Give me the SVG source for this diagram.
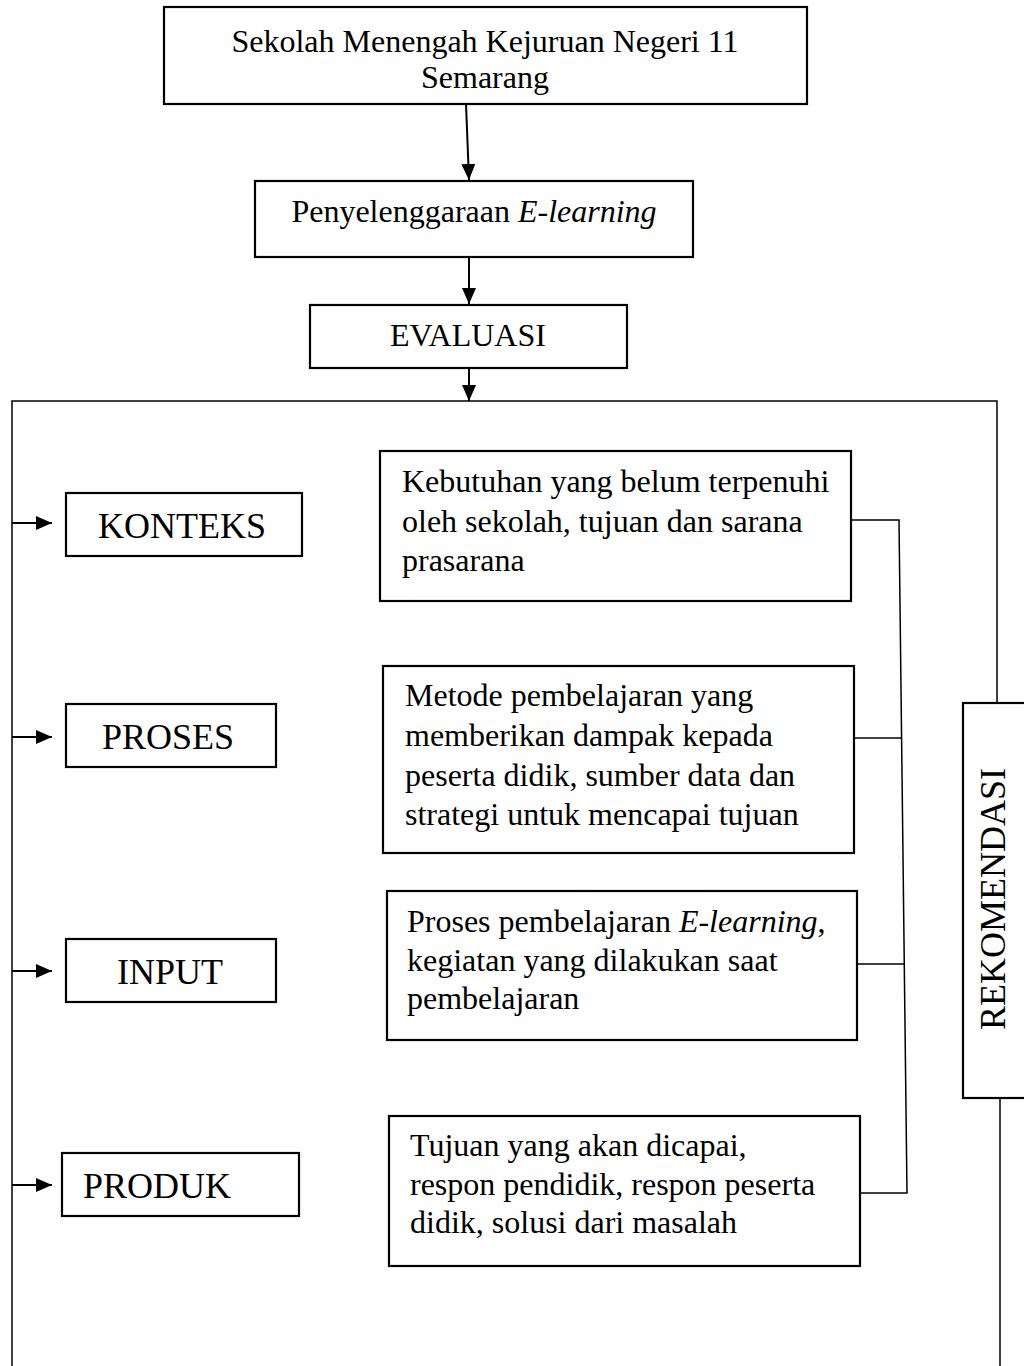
<svg xmlns="http://www.w3.org/2000/svg" width="1024" height="1366" viewBox="0 0 1024 1366">
<style>
.box{fill:#fff;stroke:#000;stroke-width:2.2}
.t{font-family:"Liberation Serif","Times New Roman",serif;font-size:32px;fill:#000}
.lbl{font-family:"Liberation Serif","Times New Roman",serif;font-size:36px;fill:#000}
.ln{fill:none;stroke:#000;stroke-width:1.5}
.ar{fill:none;stroke:#000;stroke-width:2}
</style>
<defs>
<marker id="ah" markerUnits="userSpaceOnUse" markerWidth="16" markerHeight="14" refX="16" refY="7" orient="auto">
<path d="M0,0 L16,7 L0,14 z" fill="#000"/>
</marker>
</defs>
<rect width="1024" height="1366" fill="#fff"/>
<g id="connectors">
<line class="ar" x1="466" y1="104" x2="469" y2="180" marker-end="url(#ah)"/>
<line class="ar" x1="469" y1="257" x2="469" y2="304" marker-end="url(#ah)"/>
<line class="ar" x1="469" y1="369" x2="469" y2="401" marker-end="url(#ah)"/>
<polyline class="ln" points="12,1366 12,401 997,401 997,703"/>
<line class="ln" x1="1000" y1="1098" x2="1000" y2="1366"/>
<line class="ar" x1="12" y1="523" x2="52" y2="523" marker-end="url(#ah)"/>
<line class="ar" x1="12" y1="737" x2="52" y2="737" marker-end="url(#ah)"/>
<line class="ar" x1="12" y1="971" x2="52" y2="971" marker-end="url(#ah)"/>
<line class="ar" x1="12" y1="1185" x2="52" y2="1185" marker-end="url(#ah)"/>
<polyline class="ln" points="851,520 899,520 907,1193 861,1193"/>
<line class="ln" x1="854" y1="738" x2="902" y2="738"/>
<line class="ln" x1="858" y1="964" x2="905" y2="964"/>
</g>
<g id="node-smk">
<rect class="box" x="164" y="7" width="643" height="97"/>
<text class="t" x="485" y="52" text-anchor="middle">Sekolah Menengah Kejuruan Negeri 11</text>
<text class="t" x="485" y="88" text-anchor="middle">Semarang</text>
</g>
<g id="node-penyelenggaraan">
<rect class="box" x="255" y="181" width="438" height="76"/>
<text class="t" x="474" y="222" text-anchor="middle">Penyelenggaraan <tspan font-style="italic">E-learning</tspan></text>
</g>
<g id="node-evaluasi">
<rect class="box" x="310" y="305" width="317" height="63"/>
<text class="t" x="468" y="346" text-anchor="middle">EVALUASI</text>
</g>
<g id="node-konteks">
<rect class="box" x="66" y="493" width="236" height="63"/>
<text class="lbl" x="98" y="538">KONTEKS</text>
</g>
<g id="node-proses">
<rect class="box" x="66" y="704" width="210" height="63"/>
<text class="lbl" x="102" y="749">PROSES</text>
</g>
<g id="node-input">
<rect class="box" x="66" y="939" width="210" height="63"/>
<text class="lbl" x="117" y="984">INPUT</text>
</g>
<g id="node-produk">
<rect class="box" x="62" y="1153" width="237" height="63"/>
<text class="lbl" x="83" y="1198">PRODUK</text>
</g>
<g id="node-kebutuhan">
<rect class="box" x="380" y="451" width="471" height="150"/>
<text class="t" x="402" y="492">Kebutuhan yang belum terpenuhi</text>
<text class="t" x="402" y="532">oleh sekolah, tujuan dan sarana</text>
<text class="t" x="402" y="571">prasarana</text>
</g>
<g id="node-metode">
<rect class="box" x="383" y="666" width="471" height="187"/>
<text class="t" x="405" y="706">Metode pembelajaran yang</text>
<text class="t" x="405" y="746">memberikan dampak kepada</text>
<text class="t" x="405" y="786">peserta didik, sumber data dan</text>
<text class="t" x="405" y="825">strategi untuk mencapai tujuan</text>
</g>
<g id="node-prosespembelajaran">
<rect class="box" x="387" y="891" width="470" height="149"/>
<text class="t" x="407" y="932">Proses pembelajaran <tspan font-style="italic">E-learning</tspan>,</text>
<text class="t" x="407" y="971">kegiatan yang dilakukan saat</text>
<text class="t" x="407" y="1009">pembelajaran</text>
</g>
<g id="node-tujuan">
<rect class="box" x="389" y="1116" width="471" height="150"/>
<text class="t" x="410" y="1156">Tujuan yang akan dicapai,</text>
<text class="t" x="410" y="1195">respon pendidik, respon peserta</text>
<text class="t" x="410" y="1233">didik, solusi dari masalah</text>
</g>
<g id="node-rekomendasi">
<rect class="box" x="963" y="703" width="70" height="395"/>
<text class="lbl" transform="translate(1005,899) rotate(-90)" text-anchor="middle" font-size="37">REKOMENDASI</text>
</g>
</svg>
